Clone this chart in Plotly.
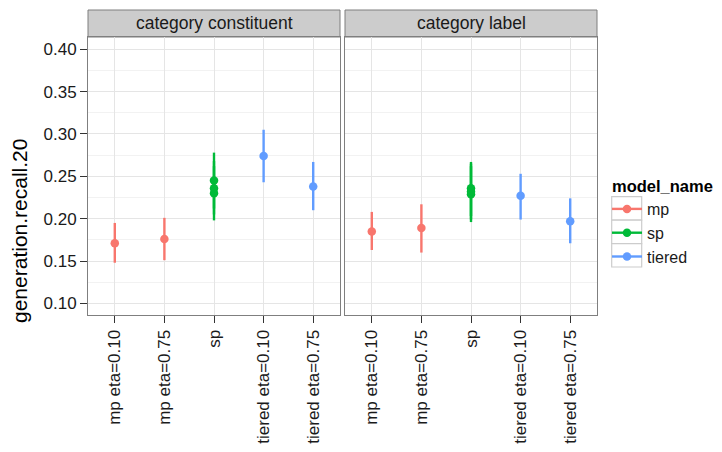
import plotly.graph_objects as go

categories = ["mp eta=0.10", "mp eta=0.75", "sp", "tiered eta=0.10", "tiered eta=0.75"]
models = ["mp", "sp", "tiered"]
model_colors = {"mp": "#F8766D", "sp": "#00BA38", "tiered": "#619CFF"}
facets = ["category constituent", "category label"]

# one row per estimate: x category, model name
row_x = ["mp eta=0.10", "mp eta=0.75", "sp", "sp", "sp", "tiered eta=0.10", "tiered eta=0.75"]
row_model = ["mp", "mp", "sp", "sp", "sp", "tiered", "tiered"]

constituent_y = [0.171, 0.176, 0.245, 0.236, 0.230, 0.274, 0.238]
constituent_lo = [0.148, 0.151, 0.212, 0.205, 0.198, 0.243, 0.210]
constituent_hi = [0.195, 0.201, 0.278, 0.268, 0.262, 0.305, 0.267]

label_y = [0.185, 0.189, 0.236, 0.232, 0.229, 0.227, 0.197]
label_lo = [0.163, 0.160, 0.203, 0.199, 0.196, 0.199, 0.171]
label_hi = [0.208, 0.217, 0.267, 0.265, 0.262, 0.253, 0.224]

y_ticks = [0.10, 0.15, 0.20, 0.25, 0.30, 0.35, 0.40]

FONT = "Liberation Sans, Arial, sans-serif"
OFF = 8  # page body margin of the browser
W, H = 722 - OFF, 452 - OFF
L, R, T, B = 88 - OFF, 597 - OFF, 37 - OFF, 315 - OFF  # plot area in figure pixels
pw, ph = R - L, B - T


def px(xp):  # xp: page pixel of reference
    return (xp - OFF - L) / pw


def py(yp):
    return (B - (yp - OFF)) / ph


fig = go.Figure()

panel_data = [
    (constituent_y, constituent_lo, constituent_hi, "x", "y"),
    (label_y, label_lo, label_hi, "x2", "y2"),
]
for yv, lo, hi, xa, ya in panel_data:
    for m in models:
        idx = [i for i, mm in enumerate(row_model) if mm == m]
        for i in idx:
            fig.add_trace(go.Scatter(
                x=[row_x[i]], y=[yv[i]],
                mode="markers",
                marker=dict(color=model_colors[m], size=8.5, line=dict(width=0)),
                error_y=dict(type="data", symmetric=False,
                             array=[hi[i] - yv[i]], arrayminus=[yv[i] - lo[i]],
                             color=model_colors[m], thickness=2.4, width=0),
                showlegend=False, xaxis=xa, yaxis=ya, hoverinfo="skip",
            ))

# legend entries
for m in models:
    fig.add_trace(go.Scatter(
        x=[None], y=[None], mode="lines+markers", name=m,
        line=dict(color=model_colors[m], width=2.4),
        marker=dict(color=model_colors[m], size=8.5),
        showlegend=True, xaxis="x", yaxis="y",
    ))

gap = 5 / pw
xcommon = dict(
    type="category", categoryorder="array", categoryarray=categories,
    range=[-0.54, 4.54], tickangle=-90, ticks="outside", ticklen=7, tickwidth=1,
    tickcolor="#333333", tickfont=dict(family=FONT, size=17, color="#1A1A1A"),
    showgrid=True, gridcolor="#E5E5E5", gridwidth=1,
    showline=True, mirror=True, linecolor="#7F7F7F", linewidth=1, zeroline=False,
)
ycommon = dict(
    range=[0.0863, 0.4145], tickmode="array", tickvals=y_ticks,
    ticktext=["%.2f" % v for v in y_ticks],
    showgrid=True, gridcolor="#E5E5E5", gridwidth=1,
    minor=dict(tickmode="array", tickvals=[0.125, 0.175, 0.225, 0.275, 0.325, 0.375],
               showgrid=True, gridcolor="#F2F2F2", gridwidth=1, ticks=""),
    showline=True, mirror=True, linecolor="#7F7F7F", linewidth=1, zeroline=False,
)

fig.update_layout(
    width=W, height=H,
    margin=dict(l=L, r=W - R, t=T, b=H - B, pad=0, autoexpand=False),
    paper_bgcolor="white", plot_bgcolor="white",
    font=dict(family=FONT, color="#1A1A1A"),
    xaxis=dict(domain=[0, 0.5 - gap / 2], **xcommon),
    xaxis2=dict(domain=[0.5 + gap / 2, 1], anchor="y2", **xcommon),
    yaxis=dict(domain=[0, 1], anchor="x", ticks="outside", ticklen=7, tickwidth=1,
               tickcolor="#333333", tickfont=dict(family=FONT, size=17, color="#1A1A1A"),
               **ycommon),
    yaxis2=dict(domain=[0, 1], anchor="x2", matches="y", showticklabels=False, ticks="",
                **ycommon),
    showlegend=True,
    legend=dict(x=px(607), y=py(192), xanchor="left", yanchor="top",
                font=dict(family=FONT, size=16, color="#1A1A1A"),
                bgcolor="rgba(0,0,0,0)", borderwidth=0, itemclick=False,
                tracegroupgap=0),
)

shapes = []
annotations = []
# facet strips
strips = [(0, 0.5 - gap / 2), (0.5 + gap / 2, 1)]
for (x0, x1), name in zip(strips, facets):
    shapes.append(dict(type="rect", xref="paper", yref="paper", x0=x0, x1=x1,
                       y0=1.0, y1=py(10), fillcolor="#CCCCCC",
                       line=dict(color="#7F7F7F", width=1), layer="below"))
    annotations.append(dict(xref="paper", yref="paper", x=(x0 + x1) / 2, y=py(23),
                            text=name, showarrow=False, xanchor="center", yanchor="middle",
                            font=dict(family=FONT, size=17.5, color="#1A1A1A")))

# legend key boxes
key_edges = [196.7, 220.2, 243.7, 267]
for i in range(3):
    shapes.append(dict(type="rect", xref="paper", yref="paper",
                       x0=px(611.7), x1=px(641.7), y0=py(key_edges[i + 1]), y1=py(key_edges[i]),
                       fillcolor="white", line=dict(color="#CCCCCC", width=1.2), layer="below"))

annotations.append(dict(xref="paper", yref="paper", x=px(610), y=py(186),
                        text="<b>model_name</b>", showarrow=False, xanchor="left",
                        yanchor="middle", font=dict(family=FONT, size=16.5, color="black")))
annotations.append(dict(xref="paper", yref="paper", x=px(19), y=py(231),
                        text="generation.recall.20", textangle=-90, showarrow=False,
                        xanchor="center", yanchor="middle",
                        font=dict(family=FONT, size=21, color="black")))

fig.update_layout(shapes=shapes, annotations=annotations)
fig.write_html("out.html")
